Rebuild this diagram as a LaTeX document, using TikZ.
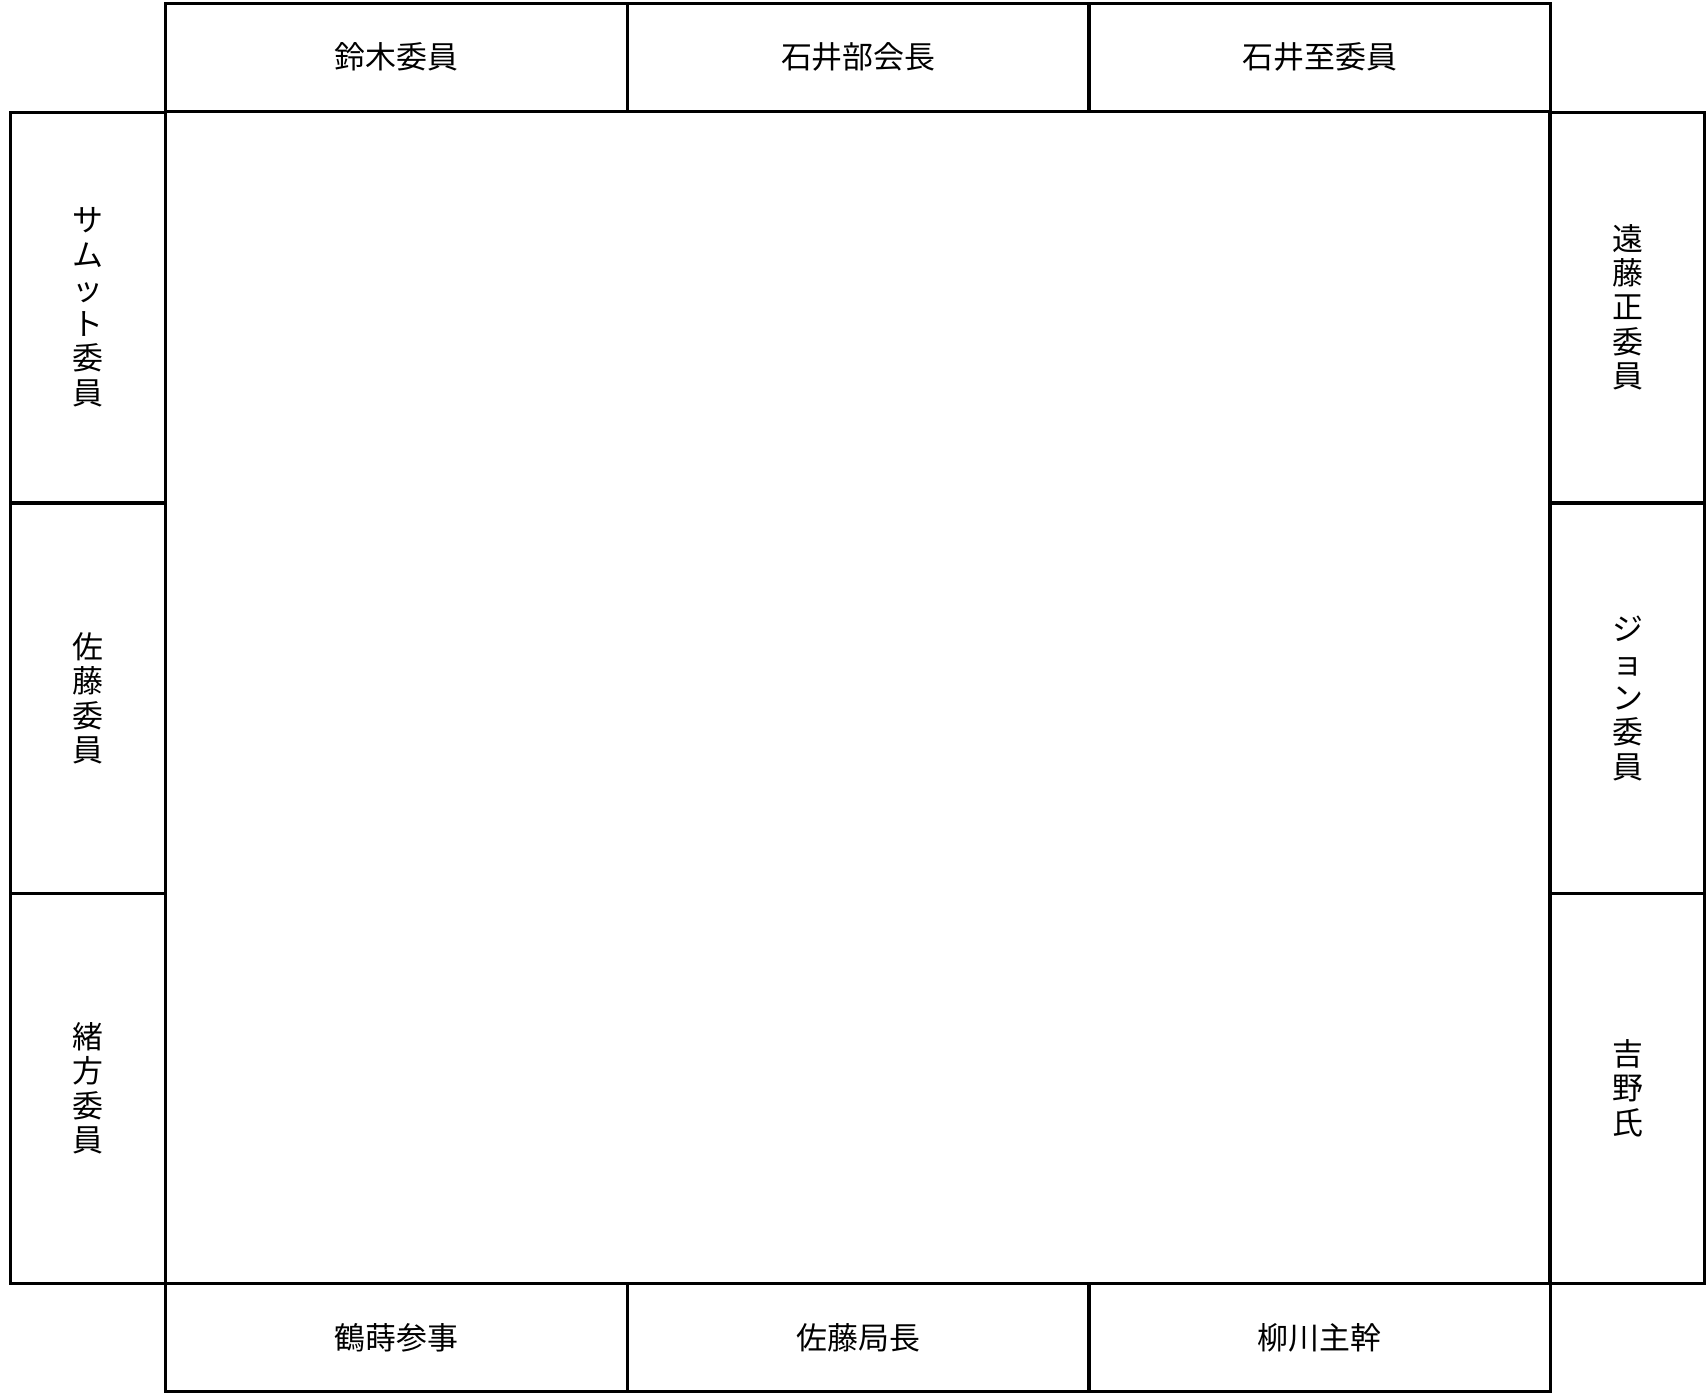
\documentclass[tikz,border=0pt]{standalone}
\usepackage{fontspec}
\newfontfamily\jpfont{Noto Sans CJK JP}
\usepackage{tikz}

\tikzset{
  seat/.style={draw, line width=1.7pt, inner sep=0pt, align=center,
    font=\jpfont\fontsize{17.6}{19.6}\selectfont},
  rowseat/.style={seat, minimum width=9.236cm, minimum height=2.156cm},
  sideseat/.style={seat, minimum width=3.094cm, minimum height=7.8cm}
}

\begin{document}
\begin{tikzpicture}[x=0.02cm, y=-0.02cm]
    \useasboundingbox (0,0) rectangle (1708,1395);
    \node[seat, minimum width=27.69cm, minimum height=23.44cm] (table) at (857.85,697.15) {};

    \foreach \name/\cx/\who in {north1/396.5/鈴木委員, north2/858.35/石井部会長, north3/1319.7/石井至委員}
    \node[rowseat] (\name) at (\cx,57.2) {\who};
    \foreach \name/\cx/\who in {south1/396.5/鶴蒔参事, south2/858.35/佐藤局長, south3/1319.7/柳川主幹}
    \node[rowseat] (\name) at (\cx,1337.65) {\who};

    \foreach \name/\cy/\who in {west1/307.2/{サ\\ム\\ッ\\ト\\委\\員}, west2/698.25/{佐\\藤\\委\\員}, west3/1088.2/{緒\\方\\委\\員}}
    \node[sideseat] (\name) at (88.25,\cy) {\who};
    \foreach \name/\cy/\who in {east1/307.2/{遠\\藤\\正\\委\\員}, east2/698.25/{ジ\\ョ\\ン\\委\\員}, east3/1088.2/{吉\\野\\氏}}
    \node[sideseat] (\name) at (1627.45,\cy) {\who};
\end{tikzpicture}
\end{document}
